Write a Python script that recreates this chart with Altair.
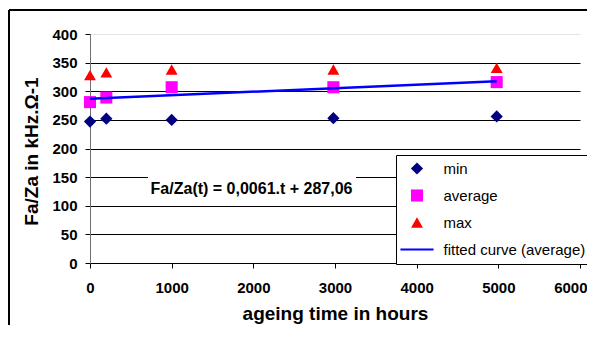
import altair as alt
import pandas as pd

# ---- data ----
hours = [0, 200, 1000, 2980, 4980]
min_vals = [247, 252, 250, 253, 256]
avg_vals = [281, 289, 307, 307, 316]
max_vals = [328, 333, 338, 338, 341]

series_names = ["min", "average", "max", "fitted curve (average)"]
series_colors = ["#000080", "#FF00FF", "#FF0000", "#0000FF"]
series_shapes = ["diamond", "square", "triangle-up",
                 "M-2.83,-0.19L2.83,-0.19L2.83,0.19L-2.83,0.19Z"]
series_sizes = [150, 137, 210, 150]

fit_hours = [0, 4980]
fit_vals = [287.06, 317.44]

x_ticks = [0, 1000, 2000, 3000, 4000, 5000, 6000]
y_ticks = [0, 50, 100, 150, 200, 250, 300, 350, 400]

equation = "Fa/Za(t) = 0,0061.t + 287,06"
eq_x, eq_y = [1978], [120.5]
eq_box_x, eq_box_x2 = [710], [3257]
eq_box_y, eq_box_y2 = [113], [165]

x_title = "ageing time in hours"
y_title = "Fa/Za in kHz.Ω-1"

FONT = "Liberation Sans"

# ---- tables ----
rows = []
for name, vals in zip(series_names[:3], [min_vals, avg_vals, max_vals]):
    for h, v in zip(hours, vals):
        rows.append({"hours": h, "value": v, "series": name})
points_df = pd.DataFrame(rows)
fit_df = pd.DataFrame({"hours": fit_hours, "value": fit_vals})
eq_df = pd.DataFrame({"x": eq_x, "y": eq_y, "label": [equation]})
box_df = pd.DataFrame({"x0": eq_box_x, "x1": eq_box_x2, "y0": eq_box_y, "y1": eq_box_y2})
dummy = pd.DataFrame({"a": [0]})

x_scale = alt.Scale(domain=[0, 6000], nice=False, zero=False)
y_scale = alt.Scale(domain=[0, 400], nice=False)

x_axis = alt.Axis(
    values=x_ticks, format="d", grid=False, domainColor="black", domainWidth=1,
    tickColor="black", tickSize=5, labelFont=FONT, labelFontSize=15,
    labelFontWeight="bold", labelColor="black", labelPadding=12,
    labelFlush=False, labelOverlap=False,
    labelAlign={"condition": {"test": "datum.value === 6000", "value": "right"}, "value": "center"},
    labelOffset={"condition": {"test": "datum.value === 6000", "value": 7}, "value": 0},
    title=x_title, titleFont=FONT, titleFontSize=19, titleFontWeight="bold",
    titleColor="black", titleBaseline="alphabetic", titleY=56,
)
y_axis = alt.Axis(
    values=y_ticks, format="d", grid=True, gridWidth=1,
    gridColor={"condition": {"test": "datum.value === 400", "value": "#e4e4e4"}, "value": "black"},
    domainColor="#707070", domainWidth=1, tickColor="black", tickSize=5,
    labelFont=FONT, labelFontSize=15, labelFontWeight="bold", labelColor="black",
    labelPadding=8,
    title=y_title, titleFont=FONT, titleFontSize=19, titleFontWeight="bold",
    titleColor="black", titleAngle=270, titleBaseline="alphabetic",
    titleAlign="center", titleX=-53, titleY=117,
)

legend = alt.Legend(
    title=None, orient="none", legendX=306, legendY=121, direction="vertical",
    strokeColor="black", fillColor="white", padding=6, rowPadding=11,
    symbolSize=120, symbolOffset=7.5, labelOffset=19, symbolStrokeWidth=0,
    symbolOpacity=1,
    labelFont=FONT, labelFontSize=15, labelColor="black",
)

box = alt.Chart(box_df).mark_rect(color="white").encode(
    x=alt.X("x0:Q", scale=x_scale, axis=x_axis),
    x2="x1:Q",
    y=alt.Y("y0:Q", scale=y_scale, axis=y_axis),
    y2="y1:Q",
)

points = alt.Chart(points_df).mark_point(filled=True, opacity=1).encode(
    x=alt.X("hours:Q", scale=x_scale, axis=x_axis),
    y=alt.Y("value:Q", scale=y_scale, axis=y_axis),
    color=alt.Color("series:N", scale=alt.Scale(domain=series_names, range=series_colors), legend=legend),
    shape=alt.Shape("series:N", scale=alt.Scale(domain=series_names, range=series_shapes), legend=legend),
    size=alt.Size("series:N", scale=alt.Scale(domain=series_names, range=series_sizes), legend=None),
)

fit_line = alt.Chart(fit_df).mark_line(color="#0000FF", strokeWidth=2.5).encode(
    x=alt.X("hours:Q", scale=x_scale, axis=x_axis),
    y=alt.Y("value:Q", scale=y_scale, axis=y_axis),
)

eq_text = alt.Chart(eq_df).mark_text(
    font=FONT, fontSize=16, fontWeight="bold", color="black",
    align="center", baseline="alphabetic",
).encode(
    x=alt.X("x:Q", scale=x_scale, axis=x_axis),
    y=alt.Y("y:Q", scale=y_scale, axis=y_axis),
    text="label:N",
)

frame_left = alt.Chart(dummy).mark_rule(color="black", strokeWidth=2).encode(
    x=alt.value(-81), y=alt.value(-24), y2=alt.value(330)
)
frame_top = alt.Chart(dummy).mark_rule(color="black", strokeWidth=2).encode(
    x=alt.value(-81), x2=alt.value(530), y=alt.value(-24)
)

chart = alt.layer(box, points, fit_line, eq_text, frame_left, frame_top).properties(
    width=490, height=229,
    autosize=alt.AutoSizeParams(type="none"),
    padding={"left": 82, "top": 26, "right": 7, "bottom": 62},
    background="white",
).configure_view(strokeWidth=0)

chart.save("out.html", embed_options={"renderer": "svg", "actions": False})
